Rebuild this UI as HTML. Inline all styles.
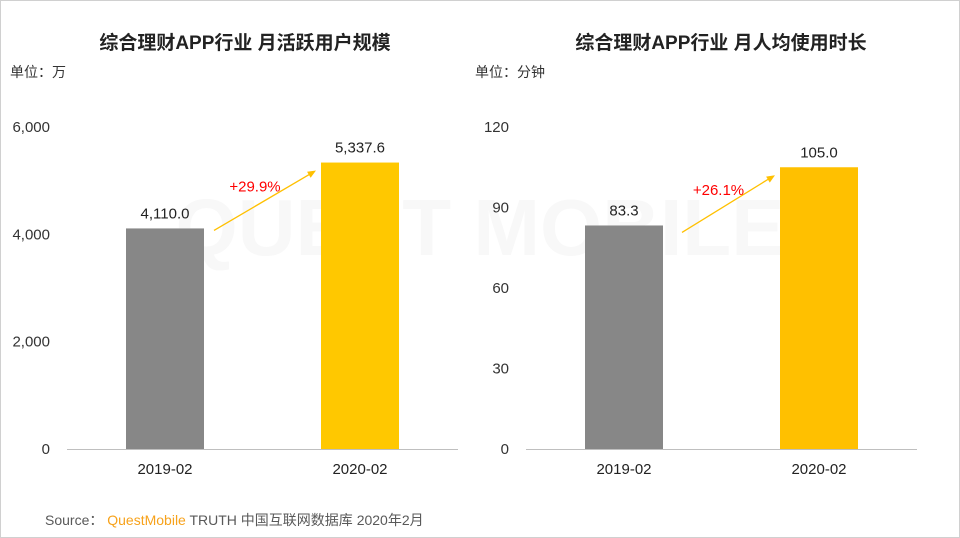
<!DOCTYPE html>
<html><head><meta charset="utf-8"><style>
body{margin:0;width:960px;height:538px;overflow:hidden;background:#fff;font-family:"Liberation Sans","Noto Sans CJK SC",sans-serif}
</style></head><body>
<svg width="960" height="538" style="position:absolute;left:0;top:0">
<rect x="0.5" y="0.5" width="959" height="537" fill="none" stroke="#d0d0d0"/>
<text x="480" y="255" font-size="80" fill="#f8f8f8" text-anchor="middle" font-weight="bold">QUEST MOBILE</text>
<g id="g"></g>
<text x="45" y="525" font-size="14" fill="#595959">Source：  <tspan fill="#f7a21b">QuestMobile</tspan> TRUTH 中国互联网数据库 2020年2月</text>
</svg>
<script>
const categories=["2019-02","2020-02"];
const mauValues=[4110.0,5337.6];
const mauTicks=[0,2000,4000,6000];
const timeValues=[83.3,105.0];
const timeTicks=[0,30,60,90,120];
const growthLabels=["+29.9%","+26.1%"];
const NS="http://www.w3.org/2000/svg";
const g=document.getElementById('g');
function el(t,a,txt){const e=document.createElementNS(NS,t);for(const k in a)e.setAttribute(k,a[k]);if(txt!=null)e.textContent=txt;g.appendChild(e);return e;}
function chart(o){
 const y=v=>449-v/o.max*322;
 const t=el('text',{x:o.cx,y:49,'font-size':19,'font-weight':'bold',fill:'#222','text-anchor':'middle'},o.title);
 
 const u=el('text',{x:o.ux,y:77,'font-size':14,fill:'#333'},o.unit);
 
 o.ticks.forEach(v=>{const tl=el('text',{x:o.x0-17,y:y(v)+5,'font-size':15,fill:'#333','text-anchor':'end'},o.fmt(v));
  });
 const ax=el('line',{x1:o.x0,x2:o.x1,y1:449.5,y2:449.5,stroke:'#bfbfbf'});
 
 const bw=78,cols=['#878787',o.yc];const cx=[o.x0+98,o.x0+293];const tops=[];
 o.vals.forEach((v,i)=>{const b=el('rect',{x:cx[i]-bw/2,y:y(v),width:bw,height:449-y(v),fill:cols[i]});
  
  tops.push(y(v));
  const l=el('text',{x:cx[i],y:y(v)-10,'font-size':15,fill:'#222','text-anchor':'middle'},v.toLocaleString('en-US',{minimumFractionDigits:1,maximumFractionDigits:1}));
  
  const c=el('text',{x:cx[i],y:474,'font-size':15,fill:'#222','text-anchor':'middle'},categories[i]);
  });
 const x1=cx[0]+bw/2+10+o.ax,y1=tops[0]+2+o.ay,x2=cx[1]-bw/2-5,y2=tops[1]+8;
 const a=el('line',{x1,y1,x2:x2-6,y2:y2+3.5,stroke:'#ffc000','stroke-width':1.3});
 
 const ang=Math.atan2(y2-y1,x2-x1);const p=(d,s)=>[x2-d*Math.cos(ang+s),y2-d*Math.sin(ang+s)];
 const h=el('polygon',{points:[[x2,y2],p(9,0.4),p(9,-0.4)].map(q=>q.join(',')).join(' '),fill:'#ffc000'});
 
 const gl=el('text',{x:(x1+x2)/2-10,y:(y1+y2)/2-9,'font-size':15,fill:'#ff0000','text-anchor':'middle'},o.growth);
 
}
chart({id:'mau',cx:245,ux:10,title:'综合理财APP行业 月活跃用户规模',unit:'单位：万',max:6000,ticks:mauTicks,vals:mauValues,x0:67,x1:458,yc:'#ffc800',growth:growthLabels[0],ax:0,ay:0,fmt:v=>v.toLocaleString('en-US')});
chart({id:'time',cx:721,ux:475,title:'综合理财APP行业 月人均使用时长',unit:'单位：分钟',max:120,ticks:timeTicks,vals:timeValues,x0:526,x1:917,yc:'#ffc000',growth:growthLabels[1],ax:9,ay:5,fmt:v=>String(v)});
</script>
</body></html>
